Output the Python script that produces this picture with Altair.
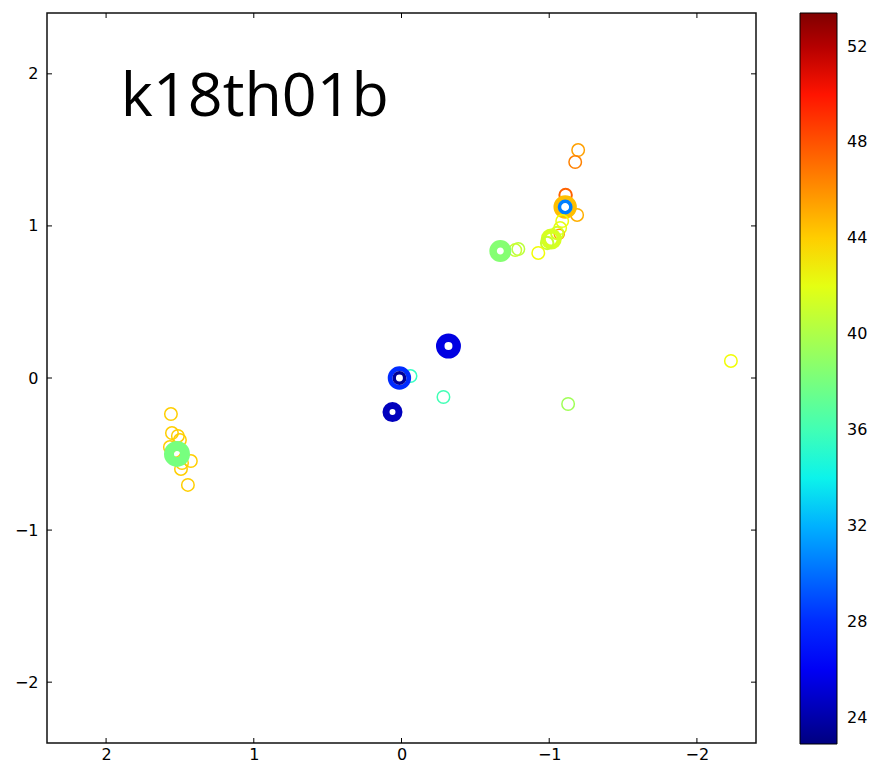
import altair as alt
import numpy as np
import pandas as pd

# ---- data ----
xs = [-1.196, -1.176, -1.111, -1.189, -1.108, -1.108, -1.088, -1.074, -1.068, -1.054,
      -1.014, -0.986, -0.926, -0.791, -0.770, -0.669,
      -0.318, -0.061, 0.014, 0.014, -0.284, 0.061, -2.230, -1.128,
      1.561, 1.554, 1.514, 1.500, 1.568, 1.534, 1.426, 1.493, 1.486, 1.446, 1.520]
ys = [1.499, 1.420, 1.203, 1.072, 1.124, 1.124, 1.032, 0.986, 0.946, 0.953,
      0.914, 0.888, 0.822, 0.848, 0.841, 0.835,
      0.210, 0.013, 0.000, 0.000, -0.125, -0.224, 0.112, -0.171,
      -0.237, -0.362, -0.381, -0.408, -0.454, -0.480, -0.546, -0.598, -0.559, -0.703, -0.499]
vals = [45.5, 46.5, 47.5, 45.0, 44.5, 30.5, 42.5, 42.0, 45.5, 41.5,
        41.5, 41.0, 42.5, 40.5, 41.0, 38.5,
        25.5, 35.5, 28.0, 23.5, 36.0, 24.5, 42.5, 39.5,
        44.0, 44.0, 44.0, 44.0, 44.0, 44.0, 44.0, 44.0, 44.0, 44.0, 38.0]
marker_size = [156, 156, 156, 156, 350, 130, 156, 156, 100, 156,
               256, 156, 156, 156, 156, 210,
               272, 156, 350, 110, 156, 169, 156, 156,
               156, 156, 156, 156, 156, 156, 156, 156, 156, 156, 256]
marker_width = [1.5, 1.5, 2, 1.5, 4.7, 3.5, 1.5, 1.5, 1.5, 2,
                5, 2, 1.5, 1.5, 1.5, 7.5,
                8.5, 1.5, 4.7, 3.5, 1.5, 7, 1.5, 1.5,
                1.5, 1.5, 1.5, 1.5, 1.5, 1.5, 1.5, 1.5, 1.5, 1.5, 10]

x_ticks = [-2, -1, 0, 1, 2]
y_ticks = [-2, -1, 0, 1, 2]
cbar_ticks = [24, 28, 32, 36, 40, 44, 48, 52]
label_text = ["k18th01b"]
label_x = [1.90]
label_y = [1.722]

vmin, vmax = 22.9, 53.4

# ---- jet colormap as piecewise-linear colour scale ----
fr = [0, 0.11, 0.125, 0.34, 0.35, 0.375, 0.5, 0.64, 0.65, 0.66, 0.89, 0.91, 1]
def jet(f):
    r = np.interp(f, [0, 0.35, 0.66, 0.89, 1], [0, 0, 1, 1, 0.5])
    g = np.interp(f, [0, 0.125, 0.375, 0.64, 0.91, 1], [0, 0, 1, 1, 0, 0])
    b = np.interp(f, [0, 0.11, 0.34, 0.65, 1], [0.5, 1, 1, 0, 0])
    return "#%02x%02x%02x" % (int(round(r * 255)), int(round(g * 255)), int(round(b * 255)))
cdom = [vmin + f * (vmax - vmin) for f in fr]
crng = [jet(f) for f in fr]

W, H = 709, 730

df = pd.DataFrame({"x": xs, "y": ys, "v": vals, "s": marker_size, "w": marker_width})

xscale = alt.Scale(domain=[-2.4, 2.4], reverse=True, nice=False, zero=False)
yscale = alt.Scale(domain=[-2.4, 2.4], nice=False, zero=False)
xaxis = alt.Axis(values=x_ticks, title=None, grid=False, ticks=False, domain=False,
                 labelFont="DejaVu Sans", labelFontSize=16, labelColor="black", labelPadding=3,
                 format="d")
yaxis = alt.Axis(values=y_ticks, title=None, grid=False, ticks=False, domain=False,
                 labelFont="DejaVu Sans", labelFontSize=16, labelColor="black", labelPadding=9,
                 format="d")

points = alt.Chart(df).mark_point(shape="circle", filled=False, opacity=1).encode(
    x=alt.X("x:Q", scale=xscale, axis=xaxis),
    y=alt.Y("y:Q", scale=yscale, axis=yaxis),
    stroke=alt.Stroke("v:Q",
                      scale=alt.Scale(domain=cdom, range=crng, interpolate="rgb"),
                      legend=alt.Legend(title=None, values=cbar_ticks, orient="right",
                                        direction="vertical", gradientLength=731,
                                        gradientThickness=37, offset=44, padding=0,
                                        labelFont="DejaVu Sans", labelFontSize=16,
                                        labelColor="black", labelOffset=10,
                                        gradientStrokeColor="black", gradientStrokeWidth=1,
                                        labelOverlap=False)),
    size=alt.Size("s:Q", scale=None, legend=None),
    strokeWidth=alt.StrokeWidth("w:Q", scale=None, legend=None),
)

xt = pd.DataFrame({"x": x_ticks})
yt = pd.DataFrame({"y": y_ticks})
tick_bottom = alt.Chart(xt).mark_rule(color="black", strokeWidth=1).encode(
    x=alt.X("x:Q", scale=xscale, axis=xaxis), y=alt.value(H), y2=alt.value(H - 5))
tick_top = alt.Chart(xt).mark_rule(color="black", strokeWidth=1).encode(
    x=alt.X("x:Q", scale=xscale, axis=xaxis), y=alt.value(0), y2=alt.value(5))
tick_left = alt.Chart(yt).mark_rule(color="black", strokeWidth=1).encode(
    y=alt.Y("y:Q", scale=yscale, axis=yaxis), x=alt.value(0), x2=alt.value(5))
tick_right = alt.Chart(yt).mark_rule(color="black", strokeWidth=1).encode(
    y=alt.Y("y:Q", scale=yscale, axis=yaxis), x=alt.value(W), x2=alt.value(W - 5))

lab = pd.DataFrame({"x": label_x, "y": label_y, "t": label_text})
label = alt.Chart(lab).mark_text(align="left", baseline="alphabetic", font="Open Sans",
                                 fontSize=61, color="black").encode(
    x=alt.X("x:Q", scale=xscale, axis=xaxis),
    y=alt.Y("y:Q", scale=yscale, axis=yaxis),
    text="t:N")

chart = alt.layer(tick_bottom, tick_top, tick_left, tick_right, points, label).properties(
    width=W, height=H,
    autosize=alt.AutoSizeParams(type="none"),
    padding={"left": 47, "top": 13, "right": 113, "bottom": 22},
    background="white",
).configure_view(stroke="#111", strokeWidth=1.5)

chart.save("out.html", embed_options={"renderer": "svg", "actions": False})
